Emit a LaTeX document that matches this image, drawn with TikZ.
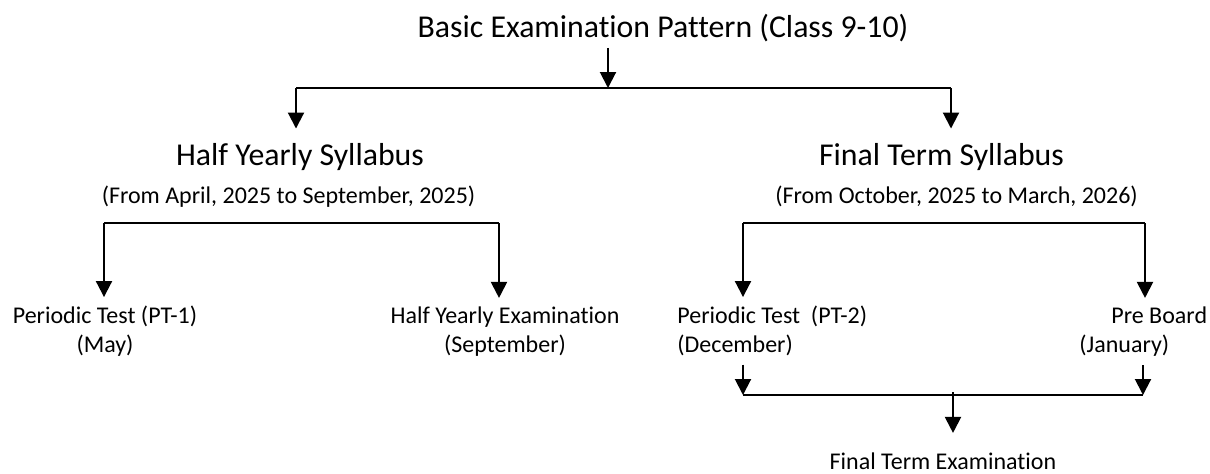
\documentclass[tikz,border=0pt]{standalone}
\usepackage{fontspec}
\setmainfont{Carlito}[Ligatures=NoCommon]
\usetikzlibrary{arrows.meta,calc,positioning}
\tikzstyle{arrow} = [line width=1pt, -{Triangle[width=8pt,length=8pt]}]
\tikzstyle{bar} = [line width=1.3pt]

\begin{document}
\begin{tikzpicture}[x=0.5pt,y=-0.5pt]
\tikzset{title/.style={font=\fontsize{15.9}{19}\selectfont,anchor=base,inner sep=0pt},
 span/.style={font=\fontsize{12}{14.5}\selectfont,anchor=base,inner sep=0pt},
 exam/.style={font=\fontsize{12}{14.5}\selectfont,inner sep=0pt,align=center,anchor=base}}
\useasboundingbox (0,0) rectangle (1210,473);

% heading
\node[title] (basic) at (663,37) {Basic Examination Pattern (Class 9-10)};
\coordinate (top) at (608,88);
\coordinate (topL) at (296,88);
\coordinate (topR) at (951,88);
\draw[arrow,shorten <=3pt] (basic.south -| top) -- (top);
\draw[bar] (topL) -- (topR);

% the two syllabus parts
\node[title] (half) at (300,165) {Half Yearly Syllabus};
\node[span] (halfspan) at (288.5,203) {(From April, 2025 to September, 2025)};
\node[title] (final) at (941.5,165) {Final Term Syllabus};
\node[span] (finalspan) at (956.5,203) {(From October, 2025 to March, 2026)};
\foreach \c/\n in {topL/half,topR/final}
  \draw[arrow,shorten >=7pt] (\c) -- (\c |- \n.north);

% half yearly
\coordinate (halfL) at (104,223);
\coordinate (halfR) at (499,223);
\draw[bar] (halfL) -- (halfR);
\node[exam] (pt1) at (105,352) {Periodic Test (PT-1)\\(May)};
\node[exam] (hye) at (505,352) {Half Yearly Examination\\(September)};
\draw[arrow,shorten >=4pt] (halfL) -- (halfL |- pt1.north);
\draw[arrow,shorten >=4pt] (halfR) -- (halfR |- hye.north);

% final term
\coordinate (finL) at (743,223);
\coordinate (finR) at (1145,223);
\draw[bar] (finL) -- (finR);
\node[exam,anchor=base west,align=left] (pt2) at (677,352) {Periodic Test\ \ (PT-2)\\(December)};
\node[exam,anchor=base west,align=left] (pre) at (1079,352) {\hspace*{16pt}Pre Board\\(January)};
\draw[arrow,shorten >=4pt] (finL) -- (finL |- pt2.north);
\draw[arrow,shorten >=4pt] (finR) -- (finR |- pre.north);

% final examination
\coordinate (botL) at (743,395);
\coordinate (botR) at (1143,395);
\coordinate (botM) at (953,392);
\node[exam] (fte) at (943,469) {Final Term Examination};
\draw[arrow,shorten <=4.5pt] (pt2.south -| botL) -- (botL);
\draw[arrow,shorten <=4.5pt] (pre.south -| botR) -- (botR);
\draw[bar] (botL) -- (botR);
\draw[arrow,shorten >=9.5pt] (botM) -- (botM |- fte.north);

\end{tikzpicture}
\end{document}
